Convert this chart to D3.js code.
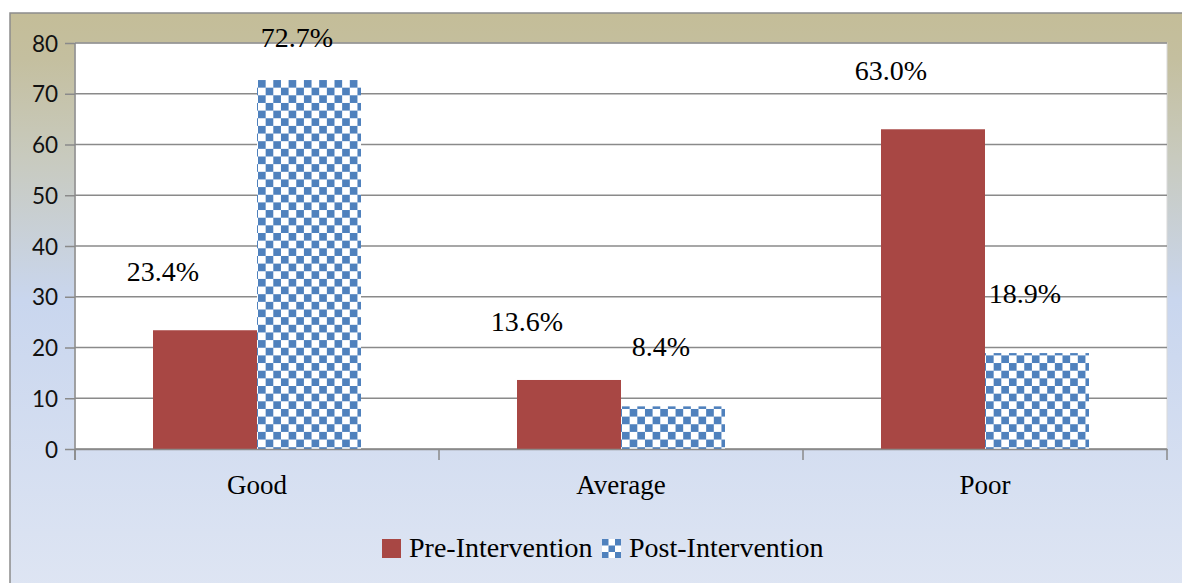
<!DOCTYPE html>
<html>
<head>
<meta charset="utf-8">
<script src="https://cdn.jsdelivr.net/npm/d3@7"></script>
<style>
    html, body { margin: 0; padding: 0; background: #fff; }
    svg { display: block; }
</style>
</head>
<body>
<svg id="chart" width="1182" height="583"></svg>
<script>
/**
 * Data.
 */
const categories = ['Good', 'Average', 'Poor'];
const preValues = [23.4, 13.6, 63.0];
const postValues = [72.7, 8.4, 18.9];
const seriesNames = ['Pre-Intervention', 'Post-Intervention'];
const yTicks = [0, 10, 20, 30, 40, 50, 60, 70, 80];

/**
 * Visual configs.
 */
const plot = { left: 75, top: 43, right: 1167, bottom: 449 },
    frame = { left: 10, top: 13 },
    gridColor = '#8a8a8a',
    preColor = '#a84744',
    postColor = '#4f81bd',
    serif = '"Liberation Serif", "Times New Roman", serif',
    sans = 'Lato, "Open Sans", sans-serif',
    cell = 7.65,
    barPadding = 78 / 364;

// label nudges per series, relative to bar centre / bar top
const labelOffsets = [{ dx: -42, dy: -49 }, { dx: -12, dy: -50 }];

const svg = d3.select('#chart');
const defs = svg.append('defs');

// Chart area background gradient
const grad = defs.append('linearGradient').attr('id', 'bg')
    .attr('x1', 0).attr('y1', 0).attr('x2', 0).attr('y2', 1);
[[0, '#c4bd98'], [0.08, '#c4bf9f'], [0.25, '#c8cabe'], [0.5, '#c9d6ee'], [1, '#dee5f3']]
    .forEach(s => grad.append('stop').attr('offset', s[0]).attr('stop-color', s[1]));

// Checkerboard pattern for the post series
function addChecker(id, size, x0, y0) {
    const p = defs.append('pattern').attr('id', id)
        .attr('patternUnits', 'userSpaceOnUse')
        .attr('x', x0).attr('y', y0)
        .attr('width', size * 2).attr('height', size * 2);
    p.append('rect').attr('width', size * 2).attr('height', size * 2).attr('fill', '#fff');
    p.append('rect').attr('width', size).attr('height', size).attr('fill', postColor);
    p.append('rect').attr('x', size).attr('y', size).attr('width', size).attr('height', size).attr('fill', postColor);
}
addChecker('checker', cell, 258, 80);
addChecker('checker-legend', 6.5, 602, 539);

svg.append('rect')
    .attr('x', frame.left).attr('y', frame.top)
    .attr('width', 1182 - frame.left + 5).attr('height', 583 - frame.top + 5)
    .attr('fill', 'url(#bg)')
    .attr('stroke', '#8c8c8c').attr('stroke-width', 1.5);

/**
 * Scales.
 */
const x0 = d3.scaleBand().domain(categories).range([plot.left, plot.right]).paddingInner(barPadding * 2).paddingOuter(barPadding);
const x1 = d3.scaleBand().domain(seriesNames).range([0, x0.bandwidth()]);
const xCat = d3.scaleBand().domain(categories).range([plot.left, plot.right]);
const y = d3.scaleLinear().domain([0, 80]).range([plot.bottom, plot.top]);

// Plot area
svg.append('rect')
    .attr('x', plot.left).attr('y', plot.top)
    .attr('width', plot.right - plot.left).attr('height', plot.bottom - plot.top)
    .attr('fill', '#fff')
    .attr('stroke', '#d9d9d9').attr('stroke-width', 1);

// Gridlines
svg.append('g').selectAll('line').data(yTicks).join('line')
    .attr('x1', plot.left).attr('x2', plot.right)
    .attr('y1', d => y(d)).attr('y2', d => y(d))
    .attr('stroke', gridColor).attr('stroke-width', 1.5);

// Bars
const series = [preValues, postValues];
const groups = svg.append('g').selectAll('g').data(categories).join('g')
    .attr('transform', d => 'translate(' + x0(d) + ',0)');

groups.selectAll('rect')
    .data((c, i) => series.map((vals, s) => ({ s, v: vals[i] })))
    .join('rect')
    .attr('x', d => x1(seriesNames[d.s]))
    .attr('y', d => y(d.v))
    .attr('width', x1.bandwidth())
    .attr('height', d => y(0) - y(d.v))
    .attr('fill', d => d.s === 0 ? preColor : 'url(#checker)');

// Value labels
groups.selectAll('text')
    .data((c, i) => series.map((vals, s) => ({ s, v: vals[i] })))
    .join('text')
    .attr('x', d => x1(seriesNames[d.s]) + x1.bandwidth() / 2 + labelOffsets[d.s].dx)
    .attr('y', d => Math.max(y(d.v) + labelOffsets[d.s].dy, 47))
    .attr('text-anchor', 'middle')
    .attr('fill', '#000')
    .style('font-family', serif)
    .style('font-size', '28px')
    .text(d => d.v.toFixed(1) + '%');

// Y axis
const yAxis = d3.axisLeft(y).tickValues(yTicks).tickSize(10).tickPadding(7);
const yg = svg.append('g')
    .attr('transform', 'translate(' + plot.left + ',0)')
    .call(yAxis);
yg.select('.domain').remove();
yg.selectAll('.tick line').attr('stroke', gridColor).attr('stroke-width', 1.5);
yg.selectAll('.tick text')
    .attr('dy', '0.36em')
    .attr('fill', '#111')
    .style('font-family', sans)
    .style('font-size', '22.5px');
svg.append('line')
    .attr('x1', plot.left).attr('x2', plot.left)
    .attr('y1', plot.top).attr('y2', plot.bottom + 11)
    .attr('stroke', gridColor).attr('stroke-width', 1.5);

// X axis
const xAxis = d3.axisBottom(xCat).tickSize(0).tickPadding(0);
const xg = svg.append('g').attr('transform', 'translate(0,' + plot.bottom + ')').call(xAxis);
xg.select('.domain').attr('stroke', gridColor).attr('stroke-width', 1.5);
xg.selectAll('.tick text')
    .attr('y', 45).attr('dy', 0)
    .attr('fill', '#000')
    .style('font-family', serif)
    .style('font-size', '27px');
xg.selectAll('.boundary').data(xCat.range().concat(categories.slice(1).map(c => xCat(c))))
    .join('line')
    .attr('class', 'boundary')
    .attr('x1', d => d).attr('x2', d => d)
    .attr('y1', 0).attr('y2', 11)
    .attr('stroke', gridColor).attr('stroke-width', 1.5);

// Legend
const legend = svg.append('g');
const legendItems = [
    { name: seriesNames[0], fill: preColor, x: 382 },
    { name: seriesNames[1], fill: 'url(#checker-legend)', x: 602 }
];
legendItems.forEach(d => {
    legend.append('rect')
        .attr('x', d.x).attr('y', 539)
        .attr('width', 19).attr('height', 19)
        .attr('fill', d.fill);
    legend.append('text')
        .attr('x', d.x + 27).attr('y', 557)
        .attr('fill', '#000')
        .style('font-family', serif)
        .style('font-size', '28px')
        .text(d.name);
});
</script>
</body>
</html>
